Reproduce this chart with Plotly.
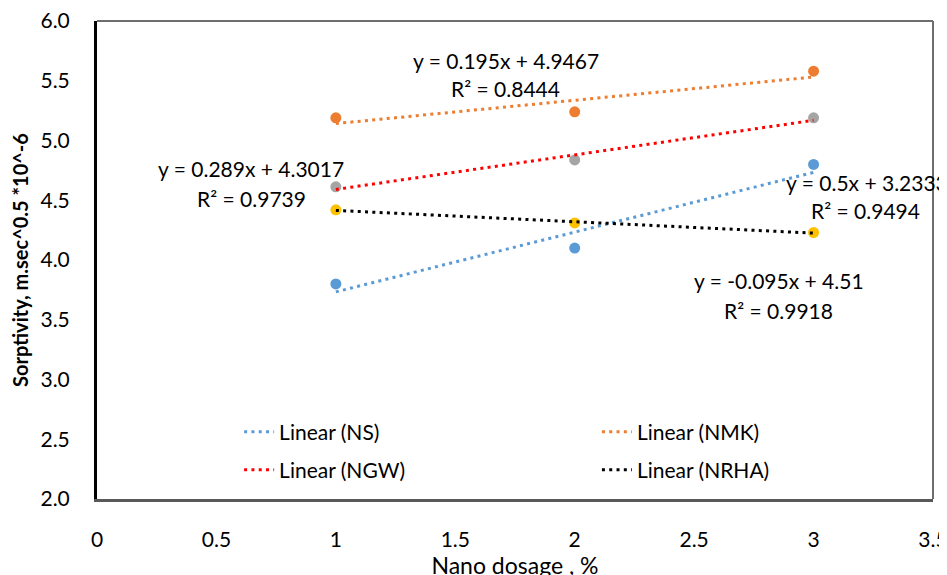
import numpy as np
import plotly.graph_objects as go

# ---- data ----
dosage = [1, 2, 3]
series_names = ["NS", "NMK", "NGW", "NRHA"]
ns_values = [3.80, 4.10, 4.80]
nmk_values = [5.19, 5.24, 5.58]
ngw_values = [4.612, 4.837, 5.19]
nrha_values = [4.42, 4.31, 4.23]
equations = ["y = 0.5x + 3.2333", "y = 0.195x + 4.9467", "y = 0.289x + 4.3017", "y = -0.095x + 4.51"]
r2_labels = ["R² = 0.9494", "R² = 0.8444", "R² = 0.9739", "R² = 0.9918"]
x_ticks = [0, 0.5, 1, 1.5, 2, 2.5, 3, 3.5]
x_tick_text = ["0", "0.5", "1", "1.5", "2", "2.5", "3", "3.5"]
y_ticks = [2.0, 2.5, 3.0, 3.5, 4.0, 4.5, 5.0, 5.5, 6.0]
y_tick_text = ["2.0", "2.5", "3.0", "3.5", "4.0", "4.5", "5.0", "5.5", "6.0"]

# ---- style ----
marker_colors = ["#5B9BD5", "#ED7D31", "#A5A5A5", "#FFC000"]
trend_colors = ["#5B9BD5", "#ED7D31", "#FF0000", "#000000"]
legend_ids = ["legend", "legend2", "legend3", "legend4"]
# legend anchor positions (paper coords)
legend_pos = [(0.170, 0.140), (0.598, 0.140), (0.170, 0.0606), (0.598, 0.0606)]
# annotation centres (data coords): (eq_x, eq_y, r2_x, r2_y)
label_pos = [(3.222, 4.651, 3.218, 4.417),
             (1.711, 5.671, 1.711, 5.437),
             (0.646, 4.768, 0.646, 4.518),
             (2.854, 3.832, 2.854, 3.581)]
FONT = "Lato, Carlito, Calibri, sans-serif"
FS = 21

all_values = [ns_values, nmk_values, ngw_values, nrha_values]

fig = go.Figure()
for name, vals, mc in zip(series_names, all_values, marker_colors):
    fig.add_trace(go.Scatter(x=dosage, y=vals, mode="markers", name=name,
                             marker=dict(color=mc, size=11), showlegend=False,
                             cliponaxis=False))

for name, vals, tc, lg in zip(series_names, all_values, trend_colors, legend_ids):
    slope, intercept = np.polyfit(dosage, vals, 1)
    xs = np.array([dosage[0], dosage[-1]], dtype=float)
    fig.add_trace(go.Scatter(x=xs, y=slope * xs + intercept, mode="lines",
                             name=f"Linear ({name})", legend=lg,
                             line=dict(color=tc, width=3, dash="3px,4.3px")))

annotations = []
for eq, r2, (ex, ey, rx, ry) in zip(equations, r2_labels, label_pos):
    annotations.append(dict(x=ex, y=ey, xref="x", yref="y", text=eq, showarrow=False,
                            xanchor="center", yanchor="middle",
                            font=dict(family=FONT, size=FS, color="#000000")))
    annotations.append(dict(x=rx, y=ry, xref="x", yref="y", text=r2, showarrow=False,
                            xanchor="center", yanchor="middle",
                            font=dict(family=FONT, size=FS, color="#000000")))

legend_layout = {}
for lg, (lx, ly) in zip(legend_ids, legend_pos):
    legend_layout[lg] = dict(orientation="h", x=lx, y=ly, xanchor="left", yanchor="middle",
                             bgcolor="rgba(0,0,0,0)",
                             font=dict(family=FONT, size=FS, color="#000000"))

# the page body has an 8px default margin, so margins are offset accordingly
fig.update_layout(
    width=947, height=575,
    margin=dict(l=89, r=22, t=13, b=84),
    paper_bgcolor="white", plot_bgcolor="white",
    font=dict(family=FONT, size=FS, color="#000000"),
    annotations=annotations,
    shapes=[
        dict(type="line", xref="paper", yref="paper", x0=0, x1=1, y0=1, y1=1,
             line=dict(color="#6E6E6E", width=2)),
        dict(type="line", xref="paper", yref="paper", x0=1, x1=1, y0=0, y1=1,
             line=dict(color="#6E6E6E", width=2)),
    ],
    **legend_layout,
)

fig.update_xaxes(range=[0, 3.5], tickvals=x_ticks, ticktext=x_tick_text,
                 showgrid=False, zeroline=False, showline=True, linecolor="#595959",
                 linewidth=3, ticks="", ticklabelstandoff=20, automargin=False,
                 ticklabeloverflow="allow",
                 title=dict(text="Nano dosage , %", standoff=6,
                            font=dict(family=FONT, size=23, color="#000000")))
fig.update_yaxes(range=[2.0, 6.0], tickvals=y_ticks, ticktext=y_tick_text,
                 showgrid=False, zeroline=False, showline=True, linecolor="#000000",
                 linewidth=3, ticks="", ticklabelstandoff=20, automargin=False,
                 ticklabeloverflow="allow",
                 title=dict(text="<b>Sorptivity, m.sec^0.5 *10^-6</b>", standoff=8,
                            font=dict(family=FONT, size=20, color="#000000")))

fig.write_html("out.html")
